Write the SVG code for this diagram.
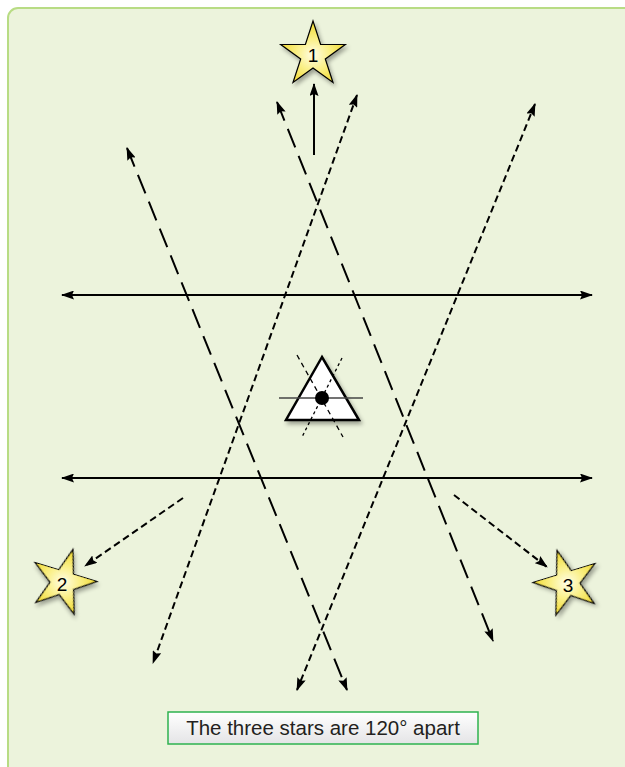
<svg xmlns="http://www.w3.org/2000/svg" width="625" height="767" viewBox="0 0 625 767">
<defs>
<style>
.ln{stroke:#000;stroke-width:2;fill:none}
.long{stroke-dasharray:20 9}
.short{stroke-dasharray:7 4}
.star{stroke:#000;stroke-width:1.2;fill:url(#sg);filter:url(#sh)}
.num{font-family:"Liberation Sans",Arial,sans-serif;font-size:19px;fill:#000;text-anchor:middle}
</style>
<radialGradient id="sg" cx="0.5" cy="0.55" r="0.55">
<stop offset="0" stop-color="#fffde6"/>
<stop offset="0.45" stop-color="#faf08a"/>
<stop offset="1" stop-color="#f0d82a"/>
</radialGradient>
<linearGradient id="bg" x1="0" y1="0" x2="0" y2="1">
<stop offset="0" stop-color="#ffffff"/>
<stop offset="1" stop-color="#e4e4e6"/>
</linearGradient>
<filter id="sh" x="-30%" y="-30%" width="160%" height="160%">
<feGaussianBlur in="SourceAlpha" stdDeviation="2"/>
<feOffset dx="2" dy="3" result="b"/>
<feComponentTransfer><feFuncA type="linear" slope="0.35"/></feComponentTransfer>
<feMerge><feMergeNode/><feMergeNode in="SourceGraphic"/></feMerge>
</filter>
<marker id="ah" viewBox="0 0 13 9" refX="12" refY="4.5" markerWidth="13" markerHeight="9" markerUnits="userSpaceOnUse" orient="auto-start-reverse">
<path d="M0,0 L13,4.5 L0,9 L2,4.5 z" fill="#000"/>
</marker>
<path id="starp" d="M0,-34 L7.6,-10.5 L32.3,-10.5 L12.3,4 L20,27.5 L0,13 L-20,27.5 L-12.3,4 L-32.3,-10.5 L-7.6,-10.5 z"/>
</defs>
<rect x="8" y="8" width="640" height="790" rx="10" fill="#ecf3dc" stroke="#b8dc84" stroke-width="2"/>
<g id="connectors">
<line class="ln long" x1="127" y1="148" x2="347" y2="690" marker-start="url(#ah)" marker-end="url(#ah)"/>
<line class="ln long" x1="277" y1="102" x2="493" y2="641" marker-start="url(#ah)" marker-end="url(#ah)"/>
<line class="ln short" x1="357" y1="95" x2="153" y2="663" marker-start="url(#ah)" marker-end="url(#ah)"/>
<line class="ln short" x1="535" y1="104" x2="297" y2="690" marker-start="url(#ah)" marker-end="url(#ah)"/>
<line class="ln" x1="62" y1="295" x2="592" y2="295" marker-start="url(#ah)" marker-end="url(#ah)"/>
<line class="ln" x1="62" y1="478" x2="592" y2="478" marker-start="url(#ah)" marker-end="url(#ah)"/>
<line class="ln" x1="314" y1="155" x2="314" y2="84" marker-end="url(#ah)"/>
<line class="ln short" x1="183" y1="498" x2="85" y2="566" marker-end="url(#ah)"/>
<line class="ln short" x1="454" y1="495" x2="547" y2="567" marker-end="url(#ah)"/>
</g>
<g id="observer">
<polygon points="322,357 286,420 359,420" fill="#fff" stroke="#000" stroke-width="2.5" filter="url(#sh)"/>
<line x1="279" y1="398" x2="363" y2="398" stroke="#444" stroke-width="1.5"/>
<line x1="297" y1="355" x2="343" y2="437" stroke="#000" stroke-width="1.3" stroke-dasharray="5 4"/>
<line x1="342" y1="358" x2="302" y2="437" stroke="#000" stroke-width="1.3" stroke-dasharray="3 3"/>
<circle cx="322" cy="398" r="7" fill="#000"/>
</g>
<g id="star1">
<use href="#starp" class="star" transform="translate(313,55)"/>
<text class="num" x="313" y="62">1</text>
</g>
<g id="star2">
<use href="#starp" class="star" transform="translate(63,582) rotate(17)"/>
<text class="num" x="62" y="591">2</text>
</g>
<g id="star3">
<use href="#starp" class="star" transform="translate(567,583) rotate(-17)"/>
<text class="num" x="568" y="592">3</text>
</g>
<g id="label">
<rect x="168" y="712" width="310" height="32" fill="url(#bg)" stroke="#2eb34f" stroke-width="1.5"/>
<text x="323" y="735" font-family="'Liberation Sans',Arial,sans-serif" font-size="20.5" fill="#231f20" text-anchor="middle">The three stars are 120° apart</text>
</g>
</svg>
